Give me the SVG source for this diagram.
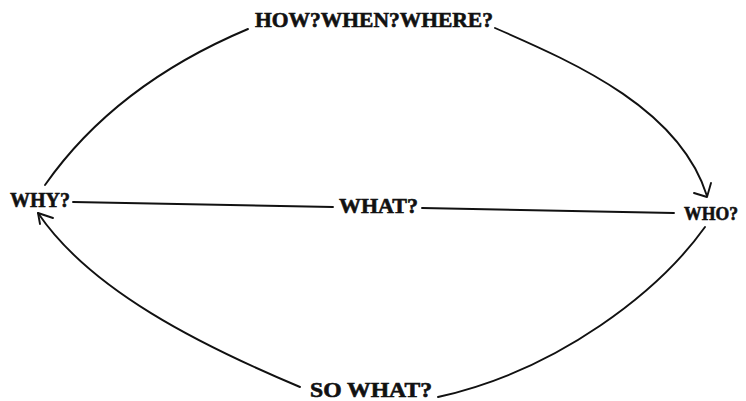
<svg xmlns="http://www.w3.org/2000/svg" width="746" height="401" viewBox="0 0 746 401">
<style>
.lbl{font-family:"Liberation Serif","Times New Roman",serif;font-weight:bold;font-size:21px;fill:#111;stroke:#111;stroke-width:0.6}
.ln{fill:none;stroke:#111;stroke-width:1.9;stroke-linecap:round;stroke-linejoin:round}
</style>
<rect width="746" height="401" fill="#fff"/>
<g id="connectors">
<path class="ln" d="M45,185 Q115,85 248,29"/>
<path class="ln" d="M495,28 C580,65 680,110 707,196"/>
<path class="ln" d="M694,193 L707,197 L711,183"/>
<path class="ln" d="M705,227 C660,290 560,370 438,397"/>
<path class="ln" d="M300,387 C200,345 90,290 38,213"/>
<path class="ln" d="M53,218 L38,213 L40,224"/>
<path class="ln" d="M73,202 L333,207"/>
<path class="ln" d="M422,208 L674,213"/>
</g>
<g id="node-how"><text class="lbl" x="255" y="27" textLength="238" lengthAdjust="spacingAndGlyphs">HOW?WHEN?WHERE?</text></g>
<g id="node-why"><text class="lbl" x="10" y="207" textLength="60" lengthAdjust="spacingAndGlyphs">WHY?</text></g>
<g id="node-what"><text class="lbl" x="339" y="213" textLength="79" lengthAdjust="spacingAndGlyphs">WHAT?</text></g>
<g id="node-who"><text class="lbl" x="684" y="220" style="font-size:19px" textLength="54" lengthAdjust="spacingAndGlyphs">WHO?</text></g>
<g id="node-sowhat"><text class="lbl" x="310" y="397" textLength="122" lengthAdjust="spacingAndGlyphs">SO WHAT?</text></g>
</svg>
